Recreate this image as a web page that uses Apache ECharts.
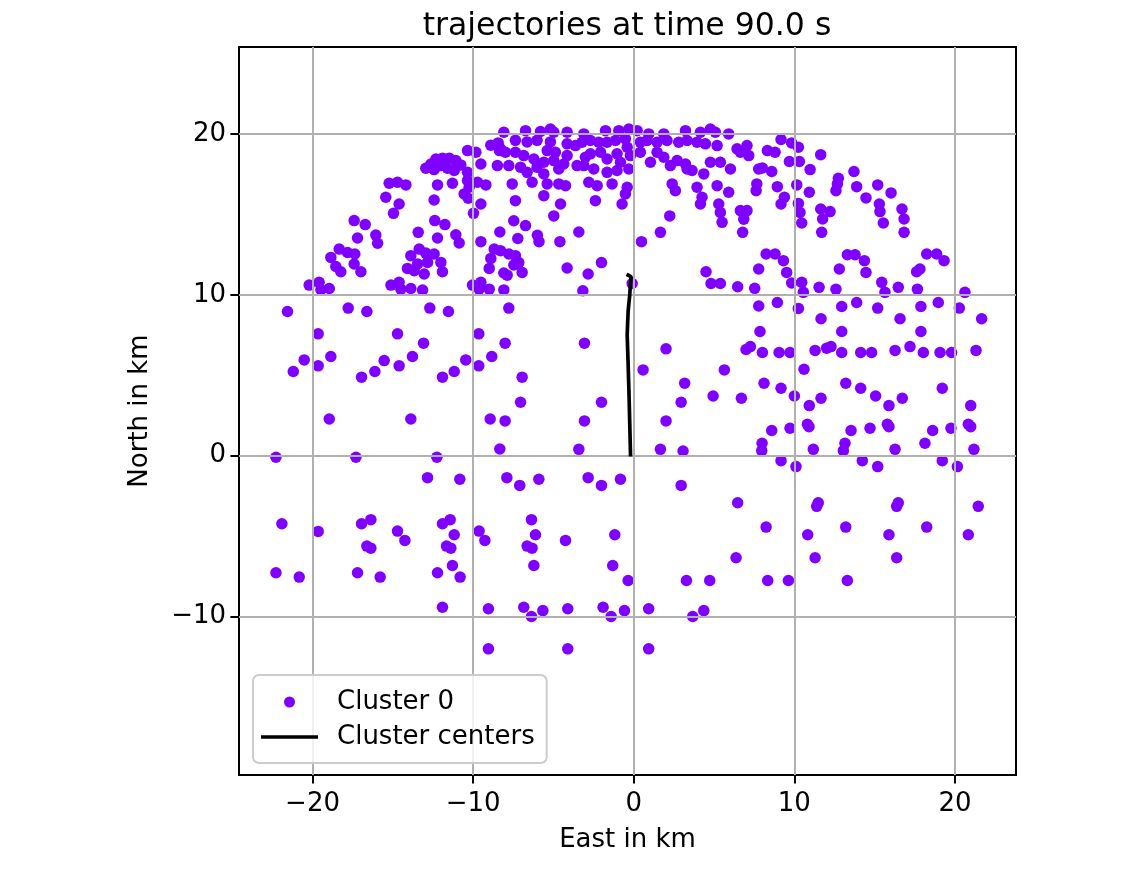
<!DOCTYPE html>
<html>
<head>
<meta charset="utf-8">
<script src="https://cdn.jsdelivr.net/npm/echarts@6/dist/echarts.min.js"></script>
<style>
html,body{margin:0;padding:0;background:#fff;}
#chart{width:1142px;height:871px;}
</style>
</head>
<body>
<div id="chart"></div>
<script>
// ---- data (km) ----
const titleText = 'trajectories at time 90.0 s';
const xAxisName = 'East in km';
const yAxisName = 'North in km';
const seriesNames = ['Cluster 0', 'Cluster centers'];
const xTicks = [-20, -10, 0, 10, 20];
const yTicks = [-10, 0, 10, 20];
const xRange = [-24.58, 23.8];
const yRange = [-19.85, 25.4];

const cluster0Points = [
[-10.35,18.96],[-9.83,18.86],[-8.9,19.3],[-8.44,19.44],[-8.36,18.96],[-8.49,18.03],
[-12.95,17.86],[-12.63,18.13],[-12.32,18.44],[-11.91,18.49],[-11.49,18.49],[-11.08,18.34],[-10.77,18.07],[-11.6,17.86],[-11.18,17.72],[-12.43,17.78],[-12.01,18.03],[-10.35,17.61],[-9.52,18.13],
[-10.35,17.1],[-10.25,16.68],[-10.56,16.27],[-10.31,16.0],[-9.73,16.99],[-9.21,16.83],[-9.52,15.64],[-9.98,15.06],[-12.22,16.83],[-11.29,16.93],[-12.43,15.89],
[-15.23,16.93],[-14.71,16.99],[-14.19,16.83],[-15.44,16.06],[-14.61,15.64],[-14.96,15.06],
[-17.41,14.61],[-16.72,14.36],[-17.2,13.53],[-16.06,13.71],[-15.95,13.2],
[-13.42,13.88],[-12.39,14.61],[-11.76,14.36],[-12.22,13.53],[-11.08,13.73],[-10.87,13.22],[-9.52,13.3],[-8.34,13.9],
[-18.34,12.84],[-17.82,12.63],[-17.37,12.53],[-18.86,12.32],[-18.55,11.76],[-18.24,11.43],[-17.41,11.91],[-16.99,11.43],
[-13.88,12.43],[-13.36,12.84],[-12.95,12.59],[-12.43,12.53],[-12.01,12.01],[-12.84,12.01],[-13.46,11.91],[-14.09,11.64],[-13.67,11.49],[-13.05,11.29],[-11.91,11.43],
[-20.21,10.6],[-19.59,10.77],[-18.96,10.39],[-19.48,10.31],[-15.12,10.6],[-14.61,10.77],[-14.5,10.35],[-13.88,10.39],[-13.15,10.29],[-10.04,10.6],[-9.52,10.77],[-9.0,10.35],[-9.63,10.35],
[-8.69,12.84],[-8.9,12.26],[-9.0,11.64],
[-21.56,8.96],[-17.78,9.17],[-16.62,8.96],[-12.7,9.17],[-11.54,8.96],
[-8.09,20.1],[-6.74,20.2],[-5.81,20.15],[-5.19,20.3],[-4.98,20.1],[-4.15,20.1],[-3.11,20.0],[-1.76,20.2],[-0.93,20.2],[-0.31,20.3],[0.21,20.2],[0.93,20.0],[1.87,20.0],[3.22,20.2],[4.15,20.1],[4.77,20.3],[5.08,20.1],[5.91,20.0],
[-7.37,19.6],[-6.64,19.5],[-6.02,19.6],[-5.19,19.5],[-5.39,18.96],[-4.88,18.86],[-4.15,19.38],[-3.63,19.27],[-3.22,19.48],[-2.7,19.59],[-2.18,19.48],[-1.66,19.48],[-1.14,19.59],[-0.52,19.69],[-0.41,19.17],[0.41,19.48],[0.83,19.59],[1.45,19.48],[2.07,19.59],[2.8,19.48],[3.32,19.59],[3.94,19.48],[4.46,19.38],[5.19,19.27],[6.43,19.07],[7.05,19.27],[7.16,18.65],[6.64,18.86],
[-7.99,18.86],[-8.3,19.07],[-7.37,18.86],[-6.85,18.65],[-6.22,18.44],[-5.6,18.24],[-4.98,18.34],[-4.36,18.13],[-4.15,18.65],[-3.53,18.03],[-3.01,18.55],[-2.7,18.76],[-2.07,18.86],[-1.66,18.44],[-1.04,18.76],[-0.83,18.24],[-0.21,18.65],[-0.31,17.82],[-1.04,17.72],[-1.66,17.61],[-2.49,17.82],[-3.11,18.03],[0.41,18.86],[1.04,18.24],[1.45,18.86],[1.87,18.55],[2.28,18.03],[2.7,18.34],[3.22,18.13],[3.63,17.72],[3.32,17.82],[4.36,17.51],[4.77,18.24],[5.39,18.24],[6.02,17.82],[-7.78,18.03],[-7.05,17.93],[-6.64,17.61],[-6.02,17.93],[-5.6,17.51],[-4.67,17.82],
[-7.57,16.89],[-6.33,16.99],[-5.39,16.89],[-4.67,16.89],[-4.25,16.78],[-2.8,16.99],[-2.28,16.78],[-1.35,16.89],[-0.41,16.68],[-0.52,16.27],[-0.73,15.64],[-2.39,15.85],[-7.37,15.85],[-5.6,16.16],[-4.56,15.64],[2.39,16.89],[2.59,16.47],[3.94,16.68],[5.19,16.78],[5.91,16.37],[4.25,16.06],[4.15,15.64],[5.29,15.64],[5.39,15.12],[6.64,15.23],[7.05,15.23],[7.78,17.82],
[-7.47,14.6],[-6.74,14.3],[-4.98,14.9],[-7.22,13.5],[-6.0,13.7],[-5.9,13.3],[-4.6,13.3],[-3.42,13.9],
[-8.3,12.74],[-7.78,12.53],[-7.37,12.43],[-7.16,12.0],[-7.47,11.85],[-8.09,11.35],[-7.88,11.22],[-6.95,11.39],
[-4.15,11.66],[-2.84,11.29],[-2.01,12.0],[-8.09,10.3],[-3.17,10.25],[-7.78,9.17],[-0.1,10.7],[0.48,13.3],[1.66,13.88],[2.24,14.9],[5.5,14.5],[6.85,14.7],[6.78,13.88],[4.5,11.43],[4.81,10.7],[5.39,10.7],[6.47,10.5],[7.53,10.4],[7.78,11.6],[7.78,9.3],
[9.17,19.65],[9.83,19.44],[10.25,19.17],[8.32,18.96],[8.8,18.86],[11.64,18.71],[9.69,18.28],[10.31,18.28],[8.01,17.88],[8.59,17.66],[10.98,17.78],[7.66,16.89],[7.62,16.47],[8.94,16.72],[10.15,16.83],[10.93,16.37],[9.38,16.06],[9.17,15.64],[10.25,15.68],[10.35,15.12],[10.46,14.46],[11.64,15.33],[12.22,15.17],[11.76,14.71],[11.7,13.88],[12.74,17.24],[12.68,16.89],[12.59,16.47],[13.71,17.66],[13.88,16.72],[14.46,16.02],[15.19,16.83],[16.02,16.33],[15.29,15.64],[15.33,15.17],[15.54,14.46],[16.7,15.33],[16.83,14.71],[16.83,13.88],
[8.24,12.53],[8.8,12.53],[9.32,12.12],[9.52,11.39],[9.83,10.73],[10.46,10.77],[10.56,10.15],[11.54,10.46],[12.59,10.35],[12.8,11.6],[13.3,12.49],[13.78,12.49],[14.36,12.12],[14.46,11.39],[15.44,10.77],[15.64,10.15],[16.47,10.46],[17.66,10.35],[17.82,11.6],[17.61,11.43],[18.24,12.53],[18.86,12.53],[19.32,12.12],[20.62,10.15],
[8.94,9.52],[10.25,9.15],[12.95,9.27],[13.88,9.52],[15.19,9.17],[17.88,9.27],[18.96,9.52],[20.27,9.17],
[-19.65,7.57],[-20.52,5.95],[-21.2,5.23],[-19.65,5.58],[-18.86,6.16],[-14.71,7.57],[-13.09,6.99],[-15.54,5.91],[-13.78,6.16],[-14.61,5.58],[-16.12,5.23],[-16.95,4.88],[-10.46,5.95],[-11.18,5.23],[-11.91,4.88],[-9.65,7.57],[-8.01,6.99],[-8.84,6.16],[-9.65,5.58],[-18.96,2.28],[-13.88,2.28],[-8.94,2.28],[-8.01,2.16],[-8.34,0.41],[-22.28,-0.1],[-17.3,-0.1],[-12.26,-0.1],[-12.84,-1.37],[-10.83,-1.47],[-7.9,-1.37],
[-3.07,6.99],[-6.95,4.88],[-7.05,3.32],[-2.01,3.32],[-3.07,2.16],[-3.42,0.39],[-7.1,-1.85],[-5.91,-1.47],[-2.84,-1.37],[-2.01,-1.85],[-0.83,-1.47],[2.01,6.64],[0.58,5.33],[3.17,4.5],[2.95,3.32],[2.01,2.16],[1.66,0.39],[3.07,0.29],[2.95,-1.85],[4.94,3.71],[5.64,5.33],[6.7,3.57],[6.99,6.6],[7.26,6.78],
[11.66,8.51],[16.58,8.51],[21.66,8.51],[7.86,7.72],[12.95,7.72],[17.88,7.72],[8.01,6.41],[9.05,6.41],[9.73,6.41],[11.29,6.54],[12.01,6.68],[12.28,6.78],[12.95,6.41],[14.13,6.41],[14.81,6.41],[16.27,6.54],[17.2,6.78],[18.03,6.41],[19.07,6.41],[19.79,6.41],[21.31,6.54],[10.6,5.37],[8.11,4.5],[9.17,4.19],[10.0,3.71],[10.93,3.11],[11.66,3.57],[13.2,4.5],[14.13,4.19],[15.06,3.71],[15.89,3.11],[16.72,3.57],[19.21,4.19],[20.98,3.11],[8.59,1.56],[9.73,1.7],[10.81,1.95],[10.91,1.8],[7.99,0.77],[7.97,0.31],[11.18,0.39],[13.53,1.56],[14.71,1.7],[15.79,1.95],[15.89,1.8],[13.15,0.77],[13.05,0.31],[16.27,0.39],[18.61,1.56],[19.75,1.7],[20.83,1.95],[20.98,1.8],[18.13,0.77],[21.18,0.39],[9.17,-0.31],[10.1,-0.68],[14.23,-0.31],[15.19,-0.68],[19.21,-0.31],[20.15,-0.68],
[-21.91,-4.23],[-19.65,-4.71],[-16.95,-4.23],[-16.37,-3.98],[-16.62,-5.62],[-16.37,-5.75],[-14.71,-4.69],[-14.25,-5.27],[-11.91,-4.23],[-11.43,-3.98],[-11.18,-4.92],[-11.66,-5.62],[-11.39,-5.75],[-11.29,-6.83],[-9.63,-4.69],[-9.27,-5.27],[-22.28,-7.28],[-20.83,-7.55],[-17.2,-7.28],[-15.79,-7.55],[-12.22,-7.28],[-10.81,-7.55],[-11.91,-9.42],[-9.05,-9.52],[-9.05,-12.01],
[-6.37,-3.98],[-6.12,-4.92],[-6.64,-5.62],[-6.33,-5.75],[-6.22,-6.83],[-4.25,-5.27],[-1.18,-4.92],[-1.31,-6.83],[-0.35,-7.76],[-6.85,-9.42],[-6.37,-10.0],[-5.66,-9.63],[-4.11,-9.52],[-1.91,-9.42],[-1.41,-10.0],[-0.58,-9.63],[0.93,-9.52],[-4.11,-12.01],[0.93,-12.01],[6.47,-2.93],[6.37,-6.35],[3.28,-7.76],[4.73,-7.76],[3.67,-10.0],[4.36,-9.63],
[11.49,-2.93],[11.39,-3.15],[16.47,-2.93],[16.37,-3.15],[21.45,-3.15],[8.24,-4.44],[10.83,-4.92],[13.2,-4.44],[15.89,-4.92],[18.24,-4.44],[20.83,-4.92],[11.29,-6.35],[16.37,-6.35],[8.34,-7.76],[9.63,-7.76],[13.3,-7.76]
];

const clusterCenterTrack = [
[-0.2,-0.05],[-0.25,2.0],[-0.3,4.0],[-0.36,6.0],[-0.41,7.5],[-0.35,9.0],[-0.25,10.0],[-0.2,10.8],[-0.16,11.1],[-0.3,11.2],[-0.45,11.27]
];

// ---- chart ----
const FONT = 'DejaVu Sans';
const LABEL_SIZE = 26;
const minus = v => String(v).replace('-', '\u2212');
const chart = echarts.init(document.getElementById('chart'), null, {renderer: 'canvas'});

const gridLines = [];
xTicks.forEach(v => gridLines.push({xAxis: v}));
yTicks.forEach(v => gridLines.push({yAxis: v}));

const option = {
  animation: false,
  backgroundColor: '#ffffff',
  title: {
    text: titleText,
    left: 627,
    top: 11,
    padding: 0,
    textAlign: 'center',
    textStyle: {fontFamily: FONT, fontSize: 31.5, fontWeight: 'normal', color: '#000'}
  },
  grid: {
    left: 239, top: 47, right: 126, bottom: 96,
    show: true, borderColor: '#000', borderWidth: 2, backgroundColor: 'transparent',
    containLabel: false
  },
  xAxis: {
    type: 'value',
    min: xRange[0], max: xRange[1],
    name: xAxisName, nameLocation: 'middle', nameGap: 52,
    nameTextStyle: {fontFamily: FONT, fontSize: LABEL_SIZE, color: '#000'},
    axisLine: {show: true, onZero: false, lineStyle: {color: '#000', width: 2}},
    axisTick: {show: true, length: 8.6, customValues: xTicks, lineStyle: {color: '#000', width: 2}},
    axisLabel: {show: true, customValues: xTicks, margin: 16, fontFamily: FONT, fontSize: LABEL_SIZE, color: '#000', formatter: minus},
    splitLine: {show: false}
  },
  yAxis: {
    type: 'value',
    min: yRange[0], max: yRange[1],
    name: yAxisName, nameLocation: 'middle', nameGap: 86,
    nameTextStyle: {fontFamily: FONT, fontSize: LABEL_SIZE, color: '#000'},
    axisLine: {show: true, onZero: false, lineStyle: {color: '#000', width: 2}},
    axisTick: {show: true, length: 8.6, customValues: yTicks, lineStyle: {color: '#000', width: 2}},
    axisLabel: {show: true, customValues: yTicks, margin: 13, fontFamily: FONT, fontSize: LABEL_SIZE, color: '#000', formatter: minus},
    splitLine: {show: false}
  },
  legend: {
    orient: 'vertical',
    left: 253, top: 675,
    z: 10,
    padding: [12, 12, 11, 8],
    itemGap: 5,
    itemWidth: 57,
    itemHeight: 11,
    backgroundColor: 'rgba(255,255,255,0.8)',
    borderColor: '#cccccc', borderWidth: 2, borderRadius: 6,
    selectedMode: false,
    textStyle: {fontFamily: FONT, fontSize: LABEL_SIZE, lineHeight: 30, color: '#000', padding: [0, 0, 0, 14]},
    data: [
      {name: seriesNames[0], icon: 'circle'},
      {name: seriesNames[1], icon: 'path://M0 0H570V37H0Z'}
    ]
  },
  series: [
    {
      name: seriesNames[0],
      type: 'scatter',
      z: 2,
      symbol: 'circle',
      symbolSize: 11.5,
      itemStyle: {color: '#8000ff', opacity: 1},
      data: cluster0Points,
      markLine: {
        silent: true,
        z: 5,
        symbol: ['none', 'none'],
        label: {show: false},
        lineStyle: {color: '#b0b0b0', width: 2, type: 'solid', opacity: 1},
        emphasis: {disabled: true},
        animation: false,
        data: gridLines
      }
    },
    {
      name: seriesNames[1],
      type: 'line',
      z: 6,
      symbol: 'none',
      showSymbol: false,
      lineStyle: {color: '#000', width: 3.7},
      itemStyle: {color: '#000'},
      data: clusterCenterTrack
    }
  ]
};
chart.setOption(option);
</script>
</body>
</html>
